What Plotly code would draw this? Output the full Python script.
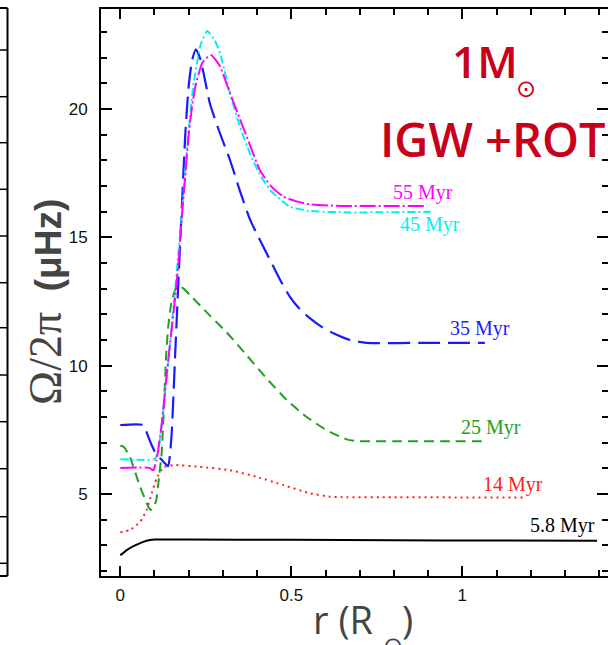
import plotly.graph_objects as go

W, H = 608, 645

# ---- data ----
r_58 = [0, 0.019, 0.04, 0.067, 0.087, 0.10, 0.2, 0.5, 0.8, 1.1, 1.394]
v_58 = [2.62, 2.82, 2.98, 3.14, 3.21, 3.23, 3.23, 3.22, 3.20, 3.19, 3.18]

r_14 = [0, 0.028, 0.058, 0.077, 0.092, 0.106, 0.126, 0.155, 0.233, 0.321, 0.399, 0.477, 0.555, 0.613, 0.65, 0.8, 1.0, 1.178]
v_14 = [3.51, 3.60, 3.92, 4.38, 5.03, 5.60, 6.04, 6.13, 6.06, 5.93, 5.67, 5.35, 5.03, 4.90, 4.88, 4.88, 4.87, 4.87]

r_25 = [0, 0.01, 0.028, 0.058, 0.082, 0.089, 0.104, 0.112, 0.121, 0.128, 0.134, 0.140, 0.150, 0.162, 0.173, 0.185, 0.204,
        0.262, 0.311, 0.37, 0.428, 0.487, 0.545, 0.603, 0.662, 0.691, 0.8, 0.95, 1.075]
v_25 = [6.88, 6.84, 6.45, 5.28, 4.51, 4.38, 4.70, 5.50, 6.60, 8.50, 10.40, 11.50, 12.50, 13.00, 13.10, 13.00, 12.75,
        11.95, 11.30, 10.40, 9.50, 8.66, 8.00, 7.49, 7.13, 7.06, 7.06, 7.06, 7.06]

r_35 = [0, 0.067, 0.08, 0.092, 0.106, 0.12, 0.14, 0.145, 0.150, 0.155, 0.160, 0.170, 0.180, 0.190, 0.200, 0.210, 0.221,
        0.235, 0.262, 0.29, 0.321, 0.35, 0.379, 0.408, 0.438, 0.467, 0.496, 0.525, 0.555, 0.59, 0.623, 0.672, 0.72, 0.9, 1.066]
v_35 = [7.69, 7.69, 7.30, 6.90, 6.52, 6.35, 6.09, 6.50, 7.30, 8.70, 10.30, 13.30, 16.20, 19.00, 20.90, 21.90, 22.32,
        21.90, 20.21, 19.10, 18.00, 16.80, 15.70, 14.90, 14.11, 13.35, 12.68, 12.20, 11.84, 11.50, 11.26, 11.00, 10.89, 10.89, 10.89]

r_45 = [0, 0.10, 0.11, 0.12, 0.13, 0.14, 0.15, 0.16, 0.17, 0.18, 0.194, 0.213, 0.235, 0.254, 0.275, 0.292, 0.321, 0.35,
        0.379, 0.41, 0.438, 0.47, 0.496, 0.55, 0.672, 0.908]
v_45 = [6.36, 6.36, 6.60, 7.60, 8.80, 10.10, 11.50, 12.90, 14.40, 15.90, 18.27, 20.86, 22.50, 23.03, 22.70, 22.16, 20.60, 19.30,
        18.27, 17.40, 16.84, 16.45, 16.19, 16.03, 15.97, 15.99]

r_55 = [0, 0.085, 0.092, 0.097, 0.106, 0.12, 0.14, 0.16, 0.17, 0.18, 0.19, 0.20, 0.21, 0.22, 0.24, 0.265, 0.29, 0.321,
        0.35, 0.37, 0.408, 0.44, 0.477, 0.52, 0.555, 0.65, 0.893]
v_55 = [6.02, 6.02, 5.95, 5.93, 6.32, 7.60, 10.20, 12.60, 14.00, 15.80, 17.40, 19.00, 20.10, 20.90, 21.80, 22.10, 21.70, 20.60,
        19.60, 18.91, 17.62, 17.00, 16.58, 16.38, 16.28, 16.22, 16.22]

ages = ["5.8 Myr", "14 Myr", "25 Myr", "35 Myr", "45 Myr", "55 Myr"]
radii = [r_58, r_14, r_25, r_35, r_45, r_55]
omegas = [v_58, v_14, v_25, v_35, v_45, v_55]

# label anchor positions (data units)
label_r = [1.294, 1.148, 1.084, 1.052, 0.905, 0.885]
label_v = [3.78, 5.36, 7.58, 11.44, 15.50, 16.76]

x_ticks = [0, 0.5, 1]
x_ticktext = ["0", "0.5", "1"]
y_ticks = [5, 10, 15, 20]
y_ticktext = ["5", "10", "15", "20"]

# ---- styles ----
colors = ["black", "#ff2020", "#22a022", "#1a1aff", "#00f0f0", "#ff00ff"]
dashes = ["solid", "2px,4px", "10px,6px", "22px,8px", "8px,3px,2px,3px", "16px,3px,2px,3px"]
widths = [2, 2, 2, 2.2, 2, 2]

fig = go.Figure()
for name, rr, vv, c, d, w in zip(ages, radii, omegas, colors, dashes, widths):
    fig.add_trace(go.Scatter(x=rr, y=vv, mode="lines", name=name,
                             line=dict(color=c, dash=d, width=w, shape="spline", smoothing=0.5),
                             showlegend=False, hoverinfo="skip"))

X0, X1 = 101 / W, 1.0
Y0, Y1 = (H - 576) / H, (H - 9) / H
xr = [-0.0564, 1.426]
yr = [1.81, 23.89]

tickfont = dict(family="Liberation Sans, Arial, sans-serif", size=17, color="#111")
fig.update_layout(
    width=W, height=H, margin=dict(l=0, r=0, t=0, b=0),
    paper_bgcolor="white", plot_bgcolor="white",
    xaxis=dict(domain=[X0, X1], range=xr, showgrid=False, zeroline=False,
               showline=True, linewidth=2, linecolor="black", mirror="ticks",
               ticks="inside", ticklen=10, tickwidth=1.5, tickcolor="black",
               tickvals=x_ticks, ticktext=x_ticktext, tickfont=tickfont, ticklabelstandoff=3,
               minor=dict(dtick=0.1, tick0=0, ticks="inside", ticklen=6, tickwidth=1.5, tickcolor="black", showgrid=False)),
    yaxis=dict(domain=[Y0, Y1], range=yr, showgrid=False, zeroline=False,
               showline=True, linewidth=2, linecolor="black", mirror=False,
               ticks="inside", ticklen=11, tickwidth=1.5, tickcolor="black",
               tickvals=y_ticks, ticktext=y_ticktext, tickfont=tickfont, ticklabelstandoff=8,
               minor=dict(dtick=1, tick0=0, ticks="inside", ticklen=6, tickwidth=1.5, tickcolor="black", showgrid=False)),
    yaxis2=dict(overlaying="y", side="right", anchor="x", range=yr, showgrid=False, zeroline=False,
                showline=False, ticks="inside", ticklen=11, tickwidth=1.5, tickcolor="black",
                tickvals=y_ticks, showticklabels=False,
                minor=dict(dtick=1, tick0=0, ticks="inside", ticklen=6, tickwidth=1.5, tickcolor="black", showgrid=False)),
)
# invisible helper so the right-hand tick axis is drawn
fig.add_trace(go.Scatter(x=[r_58[0]], y=[v_58[0]], yaxis="y2", mode="markers",
                         marker=dict(opacity=0), showlegend=False, hoverinfo="skip"))

# curve labels
for name, lr, lv, c in zip(ages, label_r, label_v, colors):
    fig.add_annotation(x=lr, y=lv, xref="x", yref="y", text=name, showarrow=False,
                       font=dict(family="Liberation Serif, Times New Roman, serif", size=20, color=c),
                       xanchor="center", yanchor="middle")

# axis titles
fig.add_annotation(x=45 / W, y=(H - 302) / H, xref="paper", yref="paper", textangle=-90, showarrow=False,
                   text="<span style='font-family:Liberation Serif, serif; font-size:46px'>Ω/2π</span>  <b>(μHz)</b>",
                   font=dict(family="Liberation Sans, Arial, sans-serif", size=37, color="#444"),
                   xanchor="center", yanchor="middle")
fig.add_annotation(x=311 / W, y=(H - 619) / H, xref="paper", yref="paper", showarrow=False,
                   text="r (R",
                   font=dict(family="Open Sans, sans-serif", size=38, color="#444"),
                   xanchor="left", yanchor="middle")
fig.add_annotation(x=393 / W, y=(H - 646) / H, xref="paper", yref="paper", showarrow=False,
                   text="⊙", font=dict(family="DejaVu Sans, sans-serif", size=24, color="#444"),
                   xanchor="center", yanchor="middle")
fig.add_annotation(x=400 / W, y=(H - 619) / H, xref="paper", yref="paper", showarrow=False,
                   text=")",
                   font=dict(family="Open Sans, sans-serif", size=38, color="#444"),
                   xanchor="left", yanchor="middle")

# in-plot title
red = "#c8001a"
fig.add_annotation(x=450 / W, y=(H - 61) / H, xref="paper", yref="paper", showarrow=False,
                   text="1M",
                   font=dict(family="Open Sans, sans-serif", size=44, color=red, weight=600),
                   xanchor="left", yanchor="middle")
fig.add_annotation(x=526 / W, y=(H - 89) / H, xref="paper", yref="paper", showarrow=False,
                   text="⊙",
                   font=dict(family="DejaVu Sans, sans-serif", size=24, color=red),
                   xanchor="center", yanchor="middle")
fig.add_annotation(x=378 / W, y=(H - 139) / H, xref="paper", yref="paper", showarrow=False,
                   text="IGW +ROT",
                   font=dict(family="Open Sans, sans-serif", size=47, color=red, weight=600),
                   xanchor="left", yanchor="middle")

# edge of the neighbouring panel on the left
shapes = [dict(type="line", xref="paper", yref="paper", x0=7.5 / W, x1=7.5 / W, y0=(H - 576) / H, y1=(H - 8) / H,
               line=dict(color="black", width=2)),
          dict(type="line", xref="paper", yref="paper", x0=0, x1=7.5 / W, y0=(H - 8) / H, y1=(H - 8) / H,
               line=dict(color="black", width=2)),
          dict(type="line", xref="paper", yref="paper", x0=0, x1=7.5 / W, y0=(H - 576) / H, y1=(H - 576) / H,
               line=dict(color="black", width=2))]
left_ticks_px = [50, 96.7, 142.7, 189.3, 236, 282.7, 327.7, 375, 421.7, 468.7, 516.7, 563.3]
for ty in left_ticks_px:
    shapes.append(dict(type="line", xref="paper", yref="paper", x0=0, x1=7.5 / W, y0=(H - ty) / H, y1=(H - ty) / H,
                       line=dict(color="black", width=1.5)))
fig.update_layout(shapes=shapes)

fig.write_html("out.html")
